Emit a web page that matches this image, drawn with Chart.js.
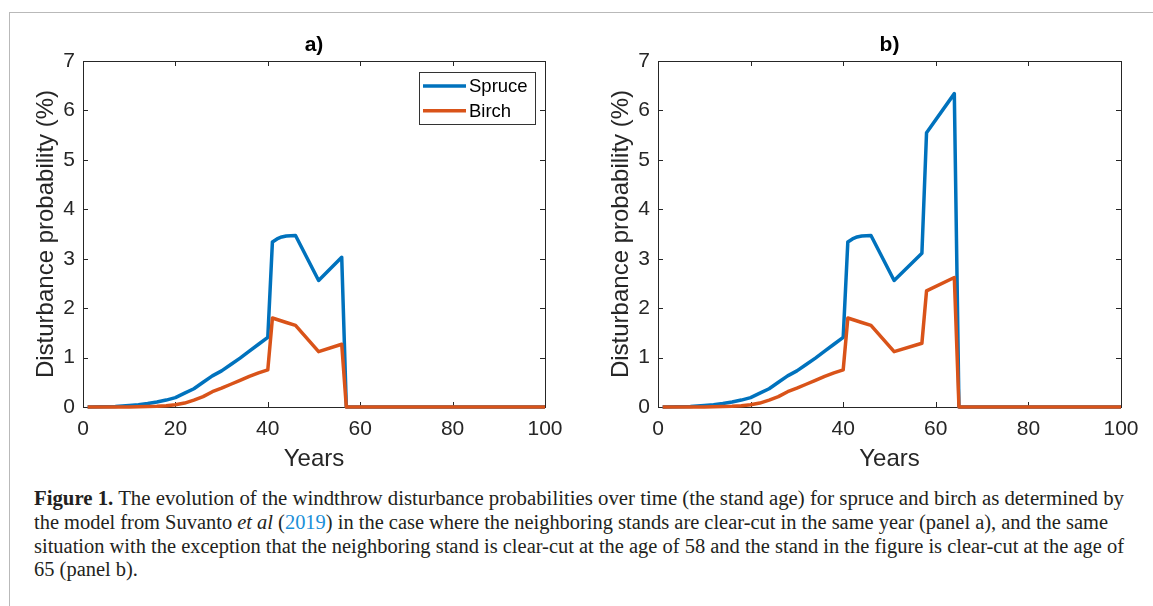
<!DOCTYPE html>
<html>
<head>
<meta charset="utf-8">
<script src="https://cdn.jsdelivr.net/npm/chart.js@4.4.1/dist/chart.umd.min.js"></script>
<style>
    body { margin: 0; background: #fff; width: 1153px; height: 606px; overflow: hidden; position: relative; }
    .moldura { position: absolute; left: 9px; top: 12px; right: 0; bottom: 0; border-left: 1px solid #b9b9b9; border-top: 1px solid #b9b9b9; }
    canvas { position: absolute; top: 0; }
    #painelA { left: 0; }
    #painelB { left: 575px; }
    .legenda { position: absolute; left: 34px; top: 487px; font-family: "Liberation Serif", "DejaVu Serif", serif; font-size: 20px; line-height: 23.8px; color: #231f20; }
    .legenda div { white-space: nowrap; transform-origin: left center; }
    .legenda .ref { color: #1a8fd8; }
</style>
</head>
<body>
<div class="moldura"></div>
<canvas id="painelA" width="580" height="480"></canvas>
<canvas id="painelB" width="578" height="480"></canvas>

<div class="legenda">
    <div data-largura="1090"><b>Figure 1.</b> The evolution of the windthrow disturbance probabilities over time (the stand age) for spruce and birch as determined by</div>
    <div data-largura="1074">the model from Suvanto <i>et al</i> (<span class="ref">2019</span>) in the case where the neighboring stands are clear-cut in the same year (panel a), and the same</div>
    <div data-largura="1090">situation with the exception that the neighboring stand is clear-cut at the age of 58 and the stand in the figure is clear-cut at the age of</div>
    <div data-largura="104">65 (panel b).</div>
</div>

<script>
// trecho comum aos dois painéis (anos 1 a 51), probabilidade em %
const anosComuns = [1, 4, 7, 10, 12, 14, 16, 18, 20, 22, 24, 26, 28, 30, 32, 34, 36, 38, 40, 41, 42, 43, 44, 46, 51];
const spruceComum = [0, 0.003, 0.012, 0.03, 0.045, 0.07, 0.10, 0.14, 0.19, 0.28, 0.37, 0.50, 0.63, 0.73, 0.86, 0.99, 1.13, 1.27, 1.41, 3.34, 3.40, 3.44, 3.46, 3.47, 2.56];
const birchComum = [0, 0, 0, 0.002, 0.004, 0.008, 0.013, 0.025, 0.045, 0.08, 0.14, 0.21, 0.31, 0.38, 0.46, 0.54, 0.62, 0.69, 0.75, 1.80, 1.77, 1.74, 1.71, 1.65, 1.12];

// painel a: vizinhos cortados no mesmo ano
const anosFimA = [56, 57, 100];
const spruceFimA = [3.03, 0, 0];
const birchFimA = [1.27, 0, 0];

// painel b: vizinho cortado aos 58, povoamento cortado aos 65
const anosFimB = [57, 58, 64, 65, 100];
const spruceFimB = [3.11, 5.55, 6.34, 0, 0];
const birchFimB = [1.29, 2.35, 2.62, 0, 0];

const ticksX = [0, 20, 40, 60, 80, 100];
const ticksY = [0, 1, 2, 3, 4, 5, 6, 7];

const fonte = '"Liberation Sans", Arial, sans-serif';
const corEixo = '#262626';

// caixa fechada com marcas para dentro, título do painel e legenda
const eixosMatlab = {
    id: 'eixosMatlab',
    beforeDatasetsDraw(chart) {
        const { ctx, chartArea: a, scales } = chart;
        const tam = 5;
        ctx.save();
        ctx.strokeStyle = corEixo;
        ctx.lineWidth = 1;
        ctx.strokeRect(a.left + 0.5, a.top + 0.5, a.right - a.left, a.bottom - a.top);
        ctx.beginPath();
        ticksX.forEach(v => {
            const px = Math.round(scales.x.getPixelForValue(v)) + 0.5;
            ctx.moveTo(px, a.bottom); ctx.lineTo(px, a.bottom - tam);
            ctx.moveTo(px, a.top); ctx.lineTo(px, a.top + tam);
        });
        ticksY.forEach(v => {
            const py = Math.round(scales.y.getPixelForValue(v)) + 0.5;
            ctx.moveTo(a.left, py); ctx.lineTo(a.left + tam, py);
            ctx.moveTo(a.right, py); ctx.lineTo(a.right - tam, py);
        });
        ctx.stroke();
        ctx.restore();
    },
    afterDatasetsDraw(chart, args, opts) {
        const { ctx, chartArea: a } = chart;
        ctx.save();
        ctx.fillStyle = '#000';
        ctx.font = 'bold 21px ' + fonte;
        ctx.textAlign = 'center';
        ctx.textBaseline = 'middle';
        ctx.fillText(opts.titulo, (a.left + a.right) / 2, 45);

        if (opts.legenda) {
            const w = 116, h = 52;
            const x0 = a.right - 10 - w, y0 = a.top + 11;
            ctx.fillStyle = '#fff';
            ctx.fillRect(x0, y0, w, h);
            ctx.strokeStyle = '#333';
            ctx.lineWidth = 1;
            ctx.strokeRect(x0 + 0.5, y0 + 0.5, w, h);
            ctx.font = '18.5px ' + fonte;
            ctx.textAlign = 'left';
            chart.data.datasets.forEach((ds, i) => {
                const y = y0 + 14 + i * 24.7;
                ctx.strokeStyle = ds.borderColor;
                ctx.lineWidth = 3.5;
                ctx.beginPath();
                ctx.moveTo(x0 + 4, y);
                ctx.lineTo(x0 + 47, y);
                ctx.stroke();
                ctx.fillStyle = '#000';
                ctx.fillText(ds.label, x0 + 50, y + 1);
            });
        }
        ctx.restore();
    }
};

function criarGrafico(id, anos, spruce, birch, titulo, legenda, direita) {
    const pontos = (ys) => anos.map((x, i) => ({ x: x, y: ys[i] }));
    const linha = { pointRadius: 0, borderWidth: 3.5, tension: 0, clip: false, borderJoinStyle: 'round', borderCapStyle: 'butt' };

    new Chart(document.getElementById(id), {
        type: 'line',
        data: {
            datasets: [
                { ...linha, label: 'Spruce', data: pontos(spruce), borderColor: '#0072BD', order: 1 },
                { ...linha, label: 'Birch', data: pontos(birch), borderColor: '#D95319', order: 0 }
            ]
        },
        options: {
            responsive: false,
            animation: false,
            devicePixelRatio: 1,
            layout: { padding: { top: 61, right: direita, left: 0, bottom: 0 } },
            plugins: {
                legend: { display: false },
                tooltip: { enabled: false },
                eixosMatlab: { titulo: titulo, legenda: legenda }
            },
            scales: {
                x: {
                    type: 'linear',
                    min: 0,
                    max: 100,
                    grid: { display: false, drawTicks: false },
                    border: { display: false },
                    afterBuildTicks: s => { s.ticks = ticksX.map(v => ({ value: v })); },
                    afterFit: s => { s.height = 73; },
                    ticks: { padding: 10, color: corEixo, maxRotation: 0, font: { size: 21, family: fonte } },
                    title: { display: true, text: 'Years', color: corEixo, font: { size: 24, family: fonte }, padding: { top: 0, bottom: 6.5 } }
                },
                y: {
                    type: 'linear',
                    min: 0,
                    max: 7,
                    grid: { display: false, drawTicks: false },
                    border: { display: false },
                    afterBuildTicks: s => { s.ticks = ticksY.map(v => ({ value: v })); },
                    afterFit: s => { s.width = 83; },
                    ticks: { padding: 8, color: corEixo, font: { size: 21, family: fonte } },
                    title: { display: true, text: 'Disturbance probability (%)', color: corEixo, font: { size: 24, family: fonte }, padding: { top: 32, bottom: 0 } }
                }
            }
        },
        plugins: [eixosMatlab]
    });
}

criarGrafico('painelA', anosComuns.concat(anosFimA), spruceComum.concat(spruceFimA), birchComum.concat(birchFimA), 'a)', true, 35);
criarGrafico('painelB', anosComuns.concat(anosFimB), spruceComum.concat(spruceFimB), birchComum.concat(birchFimB), 'b)', false, 32);

// ajusta cada linha da legenda à largura da figura
document.querySelectorAll('.legenda div').forEach(el => {
    const alvo = +el.dataset.largura;
    el.style.display = 'inline-block';
    const w = el.getBoundingClientRect().width;
    el.style.display = 'block';
    el.style.transform = 'scaleX(' + (alvo / w) + ')';
});
</script>
</body>
</html>
